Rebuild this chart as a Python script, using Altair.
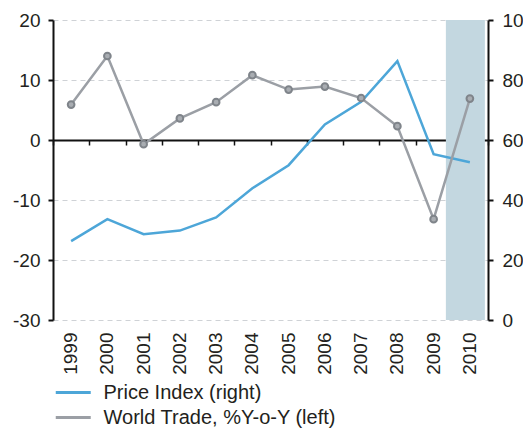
import altair as alt
import pandas as pd

years = ["1999", "2000", "2001", "2002", "2003", "2004", "2005", "2006", "2007", "2008", "2009", "2010"]
world_trade = [5.9, 14.0, -0.7, 3.6, 6.3, 10.8, 8.4, 8.9, 7.0, 2.3, -13.2, 6.9]
price_index = [26.3, 33.6, 28.6, 29.8, 34.2, 43.9, 51.6, 65.2, 72.7, 86.3, 55.3, 52.6]
shaded_years = ["2010"]
series_names = ["Price Index (right)", "World Trade, %Y-o-Y (left)"]
series_colors = ["#4da6d8", "#9b9fa5"]
left_ticks = [-30, -20, -10, 0, 10, 20]
right_ticks = [0, 20, 40, 60, 80, 100]

FONT = "Liberation Sans"
TXT = "#231f20"

trade_df = pd.DataFrame({"year": years, "value": world_trade, "series": series_names[1]})
price_df = pd.DataFrame({"year": years, "value": price_index, "series": series_names[0]})
shade_df = pd.DataFrame({"year": shaded_years})

xscale = alt.Scale(domain=years, paddingInner=0, paddingOuter=0)
lscale = alt.Scale(domain=[-30, 20], nice=False, zero=False)
rscale = alt.Scale(domain=[0, 100], nice=False, zero=False)
cscale = alt.Scale(domain=series_names, range=series_colors)

legend = alt.Legend(
    title=None, orient="none", legendX=9.75, legendY=362, direction="vertical",
    symbolType="M-2,0L2,0", symbolSize=306, symbolStrokeWidth=3,
    labelFont=FONT, labelFontSize=20, labelColor=TXT, labelOffset=19.75, labelLimit=500,
    rowPadding=4, padding=0,
)

shade = alt.Chart(shade_df).mark_bar(color="#c3d7e0", width=39, xOffset=-4.5).encode(
    x=alt.X("year:N", scale=xscale, sort=years, title=None,
            axis=alt.Axis(orient="bottom", labelAngle=-90, labelFont=FONT, labelFontSize=19,
                          labelColor=TXT, labelPadding=12, domain=False, ticks=False, grid=False)),
    y=alt.Y("a:Q", scale=lscale, axis=None),
    y2="b:Q",
).transform_calculate(a="20", b="-30")

price_line = alt.Chart(price_df).mark_line(strokeWidth=2.5).encode(
    x=alt.X("year:N", scale=xscale, sort=years, axis=None),
    y=alt.Y("value:Q", scale=rscale, title=None,
            axis=alt.Axis(orient="right", values=right_ticks, grid=False, domainColor="#111",
                          domainWidth=2, tickColor="#111", tickWidth=2, tickSize=5,
                          labelExpr="'' + datum.value",
                          labelFont=FONT, labelFontSize=19, labelColor=TXT, labelPadding=9)),
    color=alt.Color("series:N", scale=cscale, legend=legend),
)

trade_line = alt.Chart(trade_df).mark_line(strokeWidth=2.5).encode(
    x=alt.X("year:N", scale=xscale, sort=years, title=None,
            axis=alt.Axis(orient="bottom", offset=-180, labels=False, tickBand="extent",
                          tickSize=5, tickColor="#111", tickWidth=1.5, domainColor="#111",
                          domainWidth=2, grid=False)),
    y=alt.Y("value:Q", scale=lscale, title=None,
            axis=alt.Axis(orient="left", values=left_ticks, grid=True, gridColor="#cfd2d6",
                          gridDash=[5, 4], gridWidth=1, domainColor="#111", domainWidth=2,
                          tickColor="#111", tickWidth=2, tickSize=5,
                          labelExpr="'' + datum.value",
                          labelFont=FONT, labelFontSize=19, labelColor=TXT, labelPadding=8)),
    color=alt.Color("series:N", scale=cscale, legend=legend),
)

trade_pts = alt.Chart(trade_df).mark_point(filled=True, shape="circle", size=45, fill="#a9adb2",
                                           stroke="#7f848a", strokeWidth=2, opacity=1).encode(
    x=alt.X("year:N", scale=xscale, sort=years, axis=None),
    y=alt.Y("value:Q", scale=lscale, axis=None),
)

chart = alt.layer(shade, price_line, trade_line, trade_pts).resolve_scale(
    y="independent"
).resolve_axis(x="independent", y="independent").properties(
    width=435, height=300,
    padding={"left": 45, "top": 12, "right": 35, "bottom": 110},
    autosize=alt.AutoSizeParams(type="none"),
).configure_view(stroke=None).configure_axis(labelFont=FONT)

chart.save("out.html", embed_options={"renderer": "svg", "actions": False})
